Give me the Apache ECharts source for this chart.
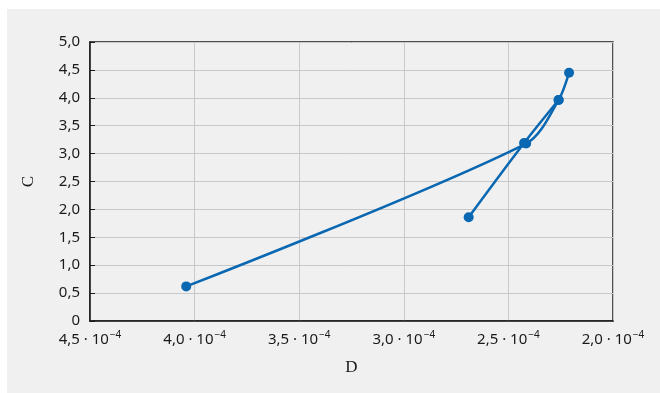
<!DOCTYPE html>
<html>
<head>
<meta charset="utf-8">
<style>
  html, body { margin: 0; padding: 0; background: #ffffff; }
  #chart { width: 660px; height: 393px; }
</style>
<script src="https://cdn.jsdelivr.net/npm/echarts@6/dist/echarts.min.js"></script>
</head>
<body>
<div id="chart"></div>
<script>
// D values are stored in units of 10^-4
const xTicks = [4.5, 4.0, 3.5, 3.0, 2.5, 2.0];
const yTicks = [0, 0.5, 1.0, 1.5, 2.0, 2.5, 3.0, 3.5, 4.0, 4.5, 5.0];

// first branch: long run from the low point up to the top
const branchA_D = [4.04, 2.415, 2.26, 2.21];
const branchA_C = [0.62, 3.18, 3.96, 4.45];

// second branch: short straight run
const branchB_D = [2.69, 2.425, 2.26];
const branchB_C = [1.86, 3.19, 3.96];

const blue = '#0a67b1';
const ink = '#1a1a1a';
const fmtNum = v => (Math.abs(v) < 1e-9 ? '0' : v.toFixed(1).replace('.', ','));

const pairs = (xs, ys) => xs.map((x, i) => [x, ys[i]]);

const chart = echarts.init(document.getElementById('chart'), null, { renderer: 'canvas' });

chart.setOption({
  animation: false,
  backgroundColor: '#ffffff',
  graphic: [{
    type: 'rect',
    left: 7, top: 9,
    shape: { width: 653, height: 384 },
    style: { fill: '#f0f0f0' },
    z: -10
  }],
  grid: {
    left: 90, right: 47, top: 42, bottom: 72,
    show: true,
    borderColor: ink,
    borderWidth: 1.5,
    backgroundColor: 'transparent'
  },
  xAxis: {
    type: 'value',
    inverse: true,
    min: 2.0, max: 4.5, interval: 0.5,
    name: 'D',
    nameLocation: 'middle',
    nameGap: 38,
    nameTextStyle: { fontFamily: 'Liberation Serif', fontSize: 17, color: ink },
    axisLine: { show: true, lineStyle: { color: ink, width: 1.5 } },
    axisTick: { show: false },
    splitLine: { show: true, lineStyle: { color: '#c8c8c8', width: 1 } },
    axisLabel: {
      margin: 9,
      formatter: v => '{m|' + fmtNum(v) + ' · 10}{s|−4}',
      rich: {
        m: { fontFamily: 'Noto Sans', fontSize: 15, color: ink },
        s: { fontFamily: 'Noto Sans', fontSize: 10, color: ink, padding: [0, 0, 9, 1] }
      }
    }
  },
  yAxis: {
    type: 'value',
    min: 0, max: 5, interval: 0.5,
    name: 'C',
    nameLocation: 'middle',
    nameGap: 53,
    nameRotate: 90,
    nameTextStyle: { fontFamily: 'Liberation Serif', fontSize: 17, color: ink },
    axisLine: { show: true, lineStyle: { color: ink, width: 1.5 } },
    axisTick: { show: true, inside: true, length: 5, lineStyle: { color: ink } },
    splitLine: { show: true, lineStyle: { color: '#c8c8c8', width: 1 } },
    axisLabel: {
      margin: 10,
      fontFamily: 'Noto Sans', fontSize: 15, color: ink,
      formatter: v => fmtNum(v)
    }
  },
  series: [
    {
      type: 'line',
      data: pairs(branchA_D, branchA_C),
      smooth: 0.3,
      symbol: 'circle', symbolSize: 10,
      itemStyle: { color: blue },
      lineStyle: { color: blue, width: 2.5 }
    },
    {
      type: 'line',
      data: pairs(branchB_D, branchB_C),
      smooth: 0.3,
      symbol: 'circle', symbolSize: 10,
      itemStyle: { color: blue },
      lineStyle: { color: blue, width: 2.5 }
    }
  ]
});
</script>
</body>
</html>
